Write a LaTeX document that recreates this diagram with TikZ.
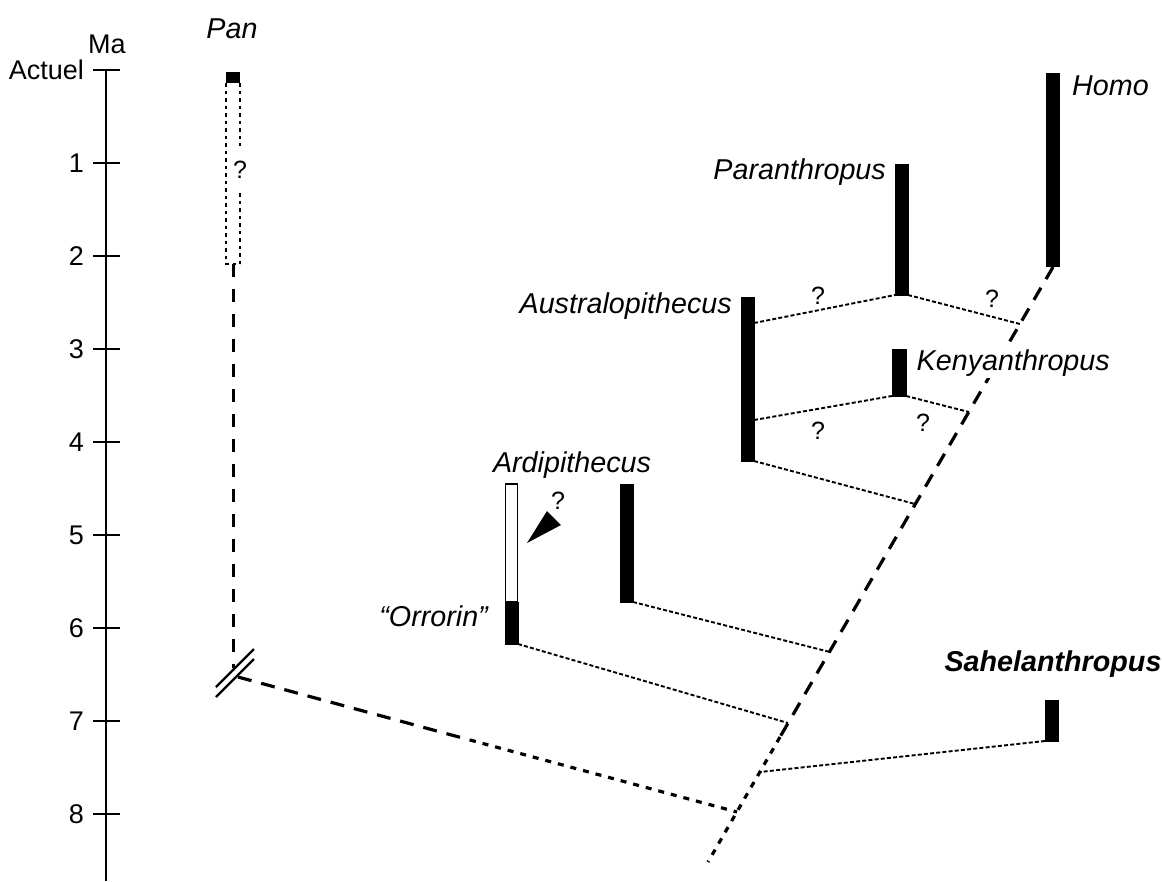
\documentclass[tikz,border=0pt]{standalone}
\usepackage{fontspec}
\setmainfont{Liberation Sans}
\begin{document}
\begin{tikzpicture}[x=1pt,y=-1pt,
  lbl/.style={font=\fontsize{28.7}{31}\selectfont\itshape, inner sep=0pt},
  axlbl/.style={font=\fontsize{27}{30}\selectfont, inner sep=0pt},
  qm/.style={font=\fontsize{25}{28}\selectfont, inner sep=0pt},
  bar/.style={fill=black, draw=black, line width=0.5pt},
  conn/.style={line width=1.9pt, dash pattern=on 4pt off 2.2pt},
  longdash/.style={line width=3.2pt, dash pattern=on 14pt off 10pt},
  shortdash/.style={line width=3.2pt, dash pattern=on 6pt off 7pt},
  dotbox/.style={line width=2pt, dash pattern=on 3.5pt off 4pt}]
\useasboundingbox (0,0) rectangle (1162,881);

% axis
\coordinate (axtop) at (106,70);
\coordinate (axbot) at (106,881);
\draw[line width=1.6pt] (axtop) -- (axbot);
\foreach \k/\t in {0/Actuel,1/1,2/2,3/3,4/4,5/5,6/6,7/7,8/8}{
  \pgfmathsetmacro{\yy}{70+93*\k}
  \draw[line width=1.6pt] (93,\yy) -- (120,\yy);
  \node[axlbl, anchor=east] (ax\k) at (84,\yy) {\t};
}
\node[axlbl] (ma) at (107,44) {Ma};

% Pan
\node[lbl] (pan) at (232,29) {Pan};
\fill (226,72) rectangle (240,83);
\draw[dotbox] (226,83) -- (226,264) -- (240,264);
\draw[dotbox] (240,83) -- (240,146);
\draw[dotbox] (240,193) -- (240,264);
\node[qm] (qpan) at (240,170) {?};
\coordinate (panbot) at (233,264);
\coordinate (panbrk) at (233,668);
\draw[line width=3pt, dash pattern=on 13pt off 12pt] (panbot) -- (panbrk);
\draw[line width=2.4pt] (216,687) -- (254,649);
\draw[line width=2.4pt] (216,697) -- (254,659);

% diagonal stem
\coordinate (dtop) at (1053,267);
\coordinate (dmid) at (780,737);
\coordinate (dbot) at (708,862);
\draw[longdash] (dtop) -- (dmid);
\draw[shortdash] (dmid) -- (dbot);

% bars
\fill[bar] (1046,73) rectangle (1059,266);
\fill[bar] (895,164) rectangle (908,295);
\fill[bar] (892,349) rectangle (906,396);
\fill[bar] (741,297) rectangle (754,461);
\fill[bar] (620,484) rectangle (633,602);
\draw[line width=1.4pt, fill=white] (505.5,484) rectangle (517.5,602);
\fill[bar] (505,602) rectangle (518,644);
\fill[bar] (1045,700) rectangle (1058,741);

% labels
\node[lbl, anchor=west] (homo) at (1072,86) {Homo};
\node[lbl, anchor=east] (para) at (886,172) {Paranthropus};
\node[lbl, anchor=east] (aus) at (732,306) {Australopithecus};
\node[lbl, anchor=west, fill=white, inner sep=1.5pt] (ken) at (915,363) {Kenyanthropus};
\node[lbl] (ard) at (572,465) {Ardipithecus};
\node[lbl, anchor=east] (orr) at (488,616) {“Orrorin”};
\node[lbl, font=\fontsize{28.7}{31}\selectfont\bfseries\itshape] (sah) at (1053,664) {Sahelanthropus};

% junctions
\coordinate (j1) at (1020,324);
\coordinate (j2) at (969,412);
\coordinate (j3) at (915,504);
\coordinate (j4) at (830,652);
\coordinate (j5) at (788,723);
\coordinate (j6) at (760,772);
\coordinate (j7) at (737,812);

% connectors
\coordinate (aus1) at (754,323);
\coordinate (aus2) at (754,420);
\coordinate (aus3) at (754,461);
\coordinate (parbl) at (895,295);
\coordinate (parbr) at (908,295);
\coordinate (kenbl) at (892,396);
\coordinate (kenbr) at (906,396);
\coordinate (ardb) at (633,602);
\coordinate (orrb) at (518,644);
\coordinate (sahb) at (1045,741);
\draw[conn] (aus1) -- (parbl);
\draw[conn] (parbr) -- (j1);
\draw[conn] (aus2) -- (kenbl);
\draw[conn] (kenbr) -- (j2);
\draw[conn] (aus3) -- (j3);
\draw[conn] (ardb) -- (j4);
\draw[conn] (orrb) -- (j5);
\draw[conn] (sahb) -- (j6);

% Pan branch
\coordinate (panh) at (238,677);
\coordinate (panm) at (470,740);
\draw[longdash] (panh) -- (panm);
\draw[shortdash] (panm) -- (j7);

% question marks
\node[qm] (q1) at (818,296) {?};
\node[qm] (q2) at (992,299) {?};
\node[qm] (q3) at (818,431) {?};
\node[qm] (q4) at (923,423) {?};
\node[qm] (q5) at (558,501) {?};

% triangle
\fill (527,543) -- (547,511) -- (561,525) -- cycle;
\end{tikzpicture}
\end{document}
